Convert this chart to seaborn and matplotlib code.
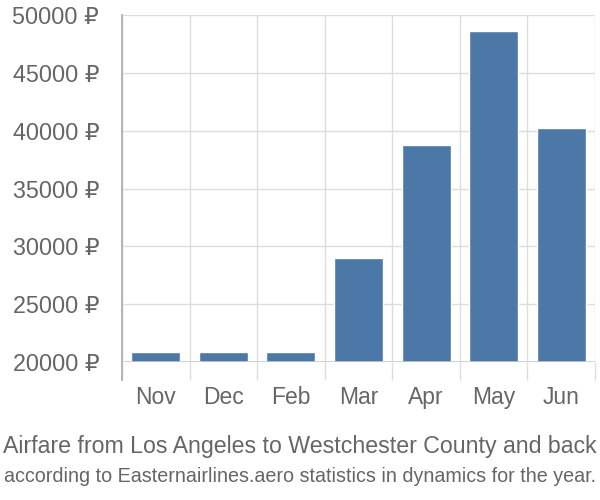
import matplotlib
matplotlib.use("Agg")
import matplotlib.pyplot as plt
import seaborn as sns
import pandas as pd
from matplotlib.ticker import FixedLocator, FuncFormatter

months = ["Nov", "Dec", "Feb", "Mar", "Apr", "May", "Jun"]
prices = [20850, 20850, 20850, 28950, 38800, 48600, 40200]
yticks = [20000, 25000, 30000, 35000, 40000, 45000, 50000]

title = "Airfare from Los Angeles to Westchester County and back"
subtitle = "according to Easternairlines.aero statistics in dynamics for the year."

sns.set_style("white")
plt.rcParams['font.family'] = ['Liberation Sans', 'DejaVu Sans']

df = pd.DataFrame({"month": months, "price": prices})

fig = plt.figure(figsize=(6, 5), dpi=100)
ax = fig.add_axes([122/600, 1-362/500, (595-122)/600, (362-15)/500])

sns.barplot(data=df, x="month", y="price", color="#4c78a8", saturation=1,
            width=0.725, ax=ax, zorder=3)

ax.set_ylim(20000, 50000)
ax.set_xlim(-0.5, len(months) - 0.5)
ax.set_xlabel("")
ax.set_ylabel("")

for s in ["top", "right", "bottom"]:
    ax.spines[s].set_visible(False)
ax.spines["left"].set_color("#aaaaaa")
ax.spines["left"].set_linewidth(1.2)
ax.spines["left"].set_bounds(20000 - 18 * 30000 / 347, 50000)

ax.set_yticks(yticks)
ax.yaxis.set_major_formatter(FuncFormatter(lambda v, p: f"{v:.0f} ₽"))
ax.tick_params(axis="y", length=14.4, color="#dddddd", width=1, pad=2,
               labelsize=16.8, labelcolor="#666666")
ax.yaxis.grid(True, color="#dddddd", linewidth=1, zorder=0)

ax.xaxis.set_minor_locator(FixedLocator([i - 0.5 for i in range(len(months) + 1)]))
ax.tick_params(axis="x", which="minor", length=13, color="#dddddd", width=1, bottom=True)
ax.tick_params(axis="x", which="major", length=0, pad=17, labelsize=16.5, labelcolor="#666666")
ax.xaxis.grid(True, which="minor", color="#dddddd", linewidth=1, zorder=0)
ax.axhline(20000, color="#cccccc", linewidth=1.2, zorder=4)
ax.set_axisbelow(True)

fig.text(0.5, 1 - 447/500, title, ha="center", va="center", fontsize=16.7, color="#666666")
fig.text(0.5, 1 - 476/500, subtitle, ha="center", va="center", fontsize=14.2,
         color="#666666")

fig.savefig("out.png", dpi=100)
